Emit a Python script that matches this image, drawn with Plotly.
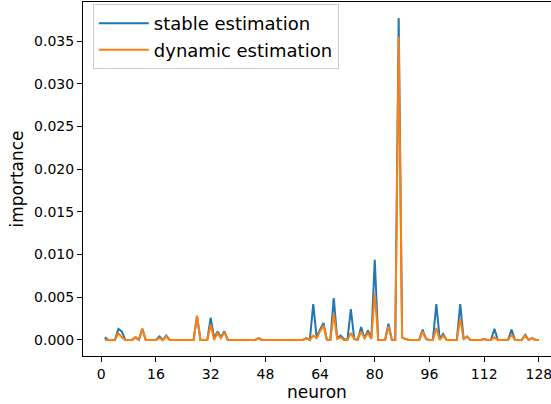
import plotly.graph_objects as go

neurons = list(range(1, 129))

stable = [0.0]*128
dynamic = [0.0]*128

stable_pts = {
    1: 0.0003, 5: 0.0013, 6: 0.0010, 10: 0.0003, 12: 0.0013, 17: 0.0004, 19: 0.0005,
    28: 0.0028, 32: 0.0026, 33: 0.0002, 34: 0.0010, 35: 0.0003, 36: 0.0010, 46: 0.0002,
    60: 0.0002, 62: 0.0042, 63: 0.0003, 64: 0.0012, 65: 0.0020, 68: 0.0049, 69: 0.0002,
    70: 0.0005, 71: 0.0001, 73: 0.0036, 74: 0.0001, 76: 0.0015, 77: 0.0002, 78: 0.0011,
    79: 0.0002, 80: 0.0094, 84: 0.0019, 87: 0.0377, 88: 0.0003, 89: 0.0001, 94: 0.0012,
    95: 0.0001, 98: 0.0042, 99: 0.0001, 100: 0.0007, 105: 0.0042, 106: 0.0001, 107: 0.0004,
    112: 0.0001, 115: 0.0013, 120: 0.0012, 124: 0.0006, 126: 0.0002,
}
dynamic_pts = {
    5: 0.0008, 6: 0.0003, 10: 0.0003, 12: 0.0013, 17: 0.0002, 19: 0.0004,
    28: 0.0028, 32: 0.0018, 34: 0.0008, 35: 0.0002, 36: 0.0009, 46: 0.0002,
    60: 0.0002, 62: 0.0005, 63: 0.0002, 64: 0.0010, 65: 0.0017, 68: 0.0031, 69: 0.0001,
    70: 0.0003, 73: 0.0008, 74: 0.0001, 76: 0.0010, 77: 0.0002, 78: 0.0008,
    79: 0.0001, 80: 0.0055, 84: 0.0016, 87: 0.0355, 88: 0.0003, 89: 0.0001, 94: 0.0010,
    95: 0.0001, 98: 0.0014, 100: 0.0005, 105: 0.0025, 106: 0.0001, 107: 0.0004,
    112: 0.0001, 115: 0.0003, 120: 0.0006, 124: 0.0005, 126: 0.0002,
}
for k, v in stable_pts.items():
    stable[k - 1] = v
for k, v in dynamic_pts.items():
    dynamic[k - 1] = v

x_ticks = [0, 16, 32, 48, 64, 80, 96, 112, 128]
y_ticks = [0.0, 0.005, 0.010, 0.015, 0.020, 0.025, 0.030, 0.035]

font = "DejaVu Sans"

fig = go.Figure()
fig.add_trace(go.Scatter(x=neurons, y=stable, mode="lines", name="stable estimation",
                         line=dict(color="#1f77b4", width=2)))
fig.add_trace(go.Scatter(x=neurons, y=dynamic, mode="lines", name="dynamic estimation",
                         line=dict(color="#ff7f0e", width=2)))

ymax = max(stable)
pad = 0.05 * ymax
fig.update_layout(
    width=551, height=404,
    margin=dict(l=83, r=0, t=2, b=48, autoexpand=False),
    paper_bgcolor="white", plot_bgcolor="white",
    font=dict(family=font, size=14, color="black"),
    showlegend=True,
    legend=dict(x=0.021, y=0.994, xanchor="left", yanchor="top",
                font=dict(size=18, family=font, color="black"),
                bgcolor="rgba(255,255,255,0.8)", bordercolor="#cccccc", borderwidth=1,
                tracegroupgap=0, itemwidth=50),
    xaxis=dict(range=[-5.35, 131.55], tickvals=x_ticks, ticktext=[str(t) for t in x_ticks],
               showgrid=False, zeroline=False, showline=True, linecolor="black", linewidth=1,
               mirror=True, ticks="outside", ticklen=5, tickcolor="black", automargin=False,
               ticklabeloverflow="allow",
               tickfont=dict(size=14, family=font),
               title=dict(text="neuron", font=dict(size=17, family=font), standoff=2)),
    yaxis=dict(range=[-pad, ymax + pad], tickvals=y_ticks, ticktext=[f"{t:.3f}" for t in y_ticks],
               showgrid=False, zeroline=False, showline=True, linecolor="black", linewidth=1,
               ticks="outside", ticklen=5, tickcolor="black", automargin=False,
               tickfont=dict(size=14, family=font),
               title=dict(text="importance", font=dict(size=17, family=font), standoff=6)),
)

fig.write_html("out.html", config={"displayModeBar": False},
               post_script="document.body.style.margin='0';document.body.style.overflow='hidden';")
